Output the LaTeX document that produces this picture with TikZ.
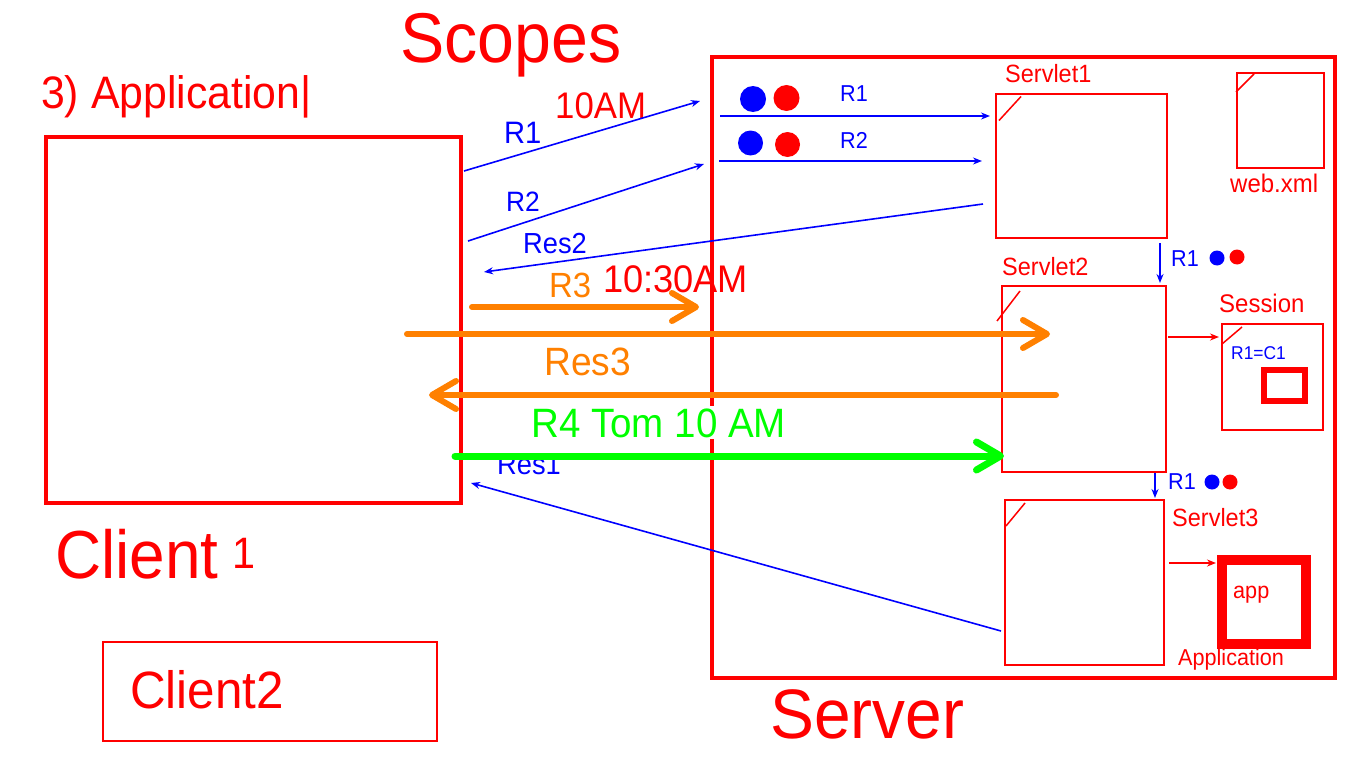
\documentclass[tikz,border=0pt]{standalone}
\usepackage{fontspec}
\setmainfont[FakeStretch=0.94]{Liberation Sans}
\usetikzlibrary{arrows.meta}
\definecolor{cred}{RGB}{255,0,0}
\definecolor{cblue}{RGB}{0,0,255}
\definecolor{corange}{RGB}{255,128,0}
\definecolor{cgreen}{RGB}{0,255,0}
\newcommand{\fsz}[1]{\fontsize{#1}{#1}\selectfont}
\begin{document}
\begin{tikzpicture}[x=1pt,y=-1pt,
  lbl/.style={inner sep=0pt, anchor=base west},
  thickbox/.style={draw=cred, line width=4pt, inner sep=0pt},
  thinbox/.style={draw=cred, line width=2pt, inner sep=0pt},
  bluearrow/.style={draw=cblue, line width=1.6pt, -{Stealth[length=9pt,width=7pt]}},
  redarrow/.style={draw=cred, line width=1.6pt, -{Stealth[length=9pt,width=7pt]}},
  bigarrow/.style={line width=6pt, line cap=round, -{Straight Barb[length=24pt,width=28pt,round]}},
  slash/.style={draw=cred, line width=1.5pt},
  dot/.style={circle, inner sep=0pt},
]
\useasboundingbox (0,0) rectangle (1366,768);
\fill[white] (0,0) rectangle (1366,768);

% boxes
\node[thickbox, minimum width=623pt, minimum height=621pt] (server) at (1023.5,367.5) {};
\node[thickbox, minimum width=415pt, minimum height=366pt] (client1) at (253.5,320) {};
\node[thinbox, minimum width=334pt, minimum height=99pt] (client2) at (270,691.5) {};
\node[thinbox, minimum width=171pt, minimum height=143pt] (servlet1) at (1081.5,166) {};
\node[thinbox, minimum width=87pt, minimum height=95pt] (webxml) at (1280.5,120.5) {};
\node[thinbox, minimum width=164pt, minimum height=186pt] (servlet2) at (1084,379) {};
\node[thinbox, minimum width=101pt, minimum height=106pt] (session) at (1272.5,377) {};
\node[draw=cred, line width=5.5pt, inner sep=0pt, minimum width=41pt, minimum height=31pt] (sessobj) at (1284.5,385.5) {};
\node[thinbox, minimum width=159pt, minimum height=165pt] (servlet3) at (1084.5,582.5) {};
\node[draw=cred, line width=10pt, inner sep=0pt, minimum width=84pt, minimum height=84pt] (appbox) at (1264,602) {};

% slashes
\draw[slash] (servlet1.north west) ++(4,27) coordinate (s1a) -- ++(22,-24) coordinate (s1b);
\draw[slash] (webxml.north west) ++(0,20) coordinate (wa) -- ++(18,-18) coordinate (wb);
\draw[slash] (servlet2.north west) ++(-4,36) coordinate (s2a) -- ++(23,-30) coordinate (s2b);
\draw[slash] (session.north west) ++(1,21) coordinate (sea) -- ++(20,-17) coordinate (seb);
\draw[slash] (servlet3.north west) ++(2,27) coordinate (s3a) -- ++(19,-23) coordinate (s3b);

% titles
\node[lbl, text=cred] (scopes) at (400,63) {\fsz{70.5}Scopes};
\node[lbl, text=cred] (appl) at (41,109) {\fsz{45.5}3) Application|};
\node[lbl, text=cred] (client1lbl) at (55,578) {\fsz{68}Client};
\node[lbl, text=cred] (client1num) at (232,568) {\fsz{44}1};
\node[lbl, text=cred] (client2lbl) at (130,708) {\fsz{52.5}Client2};
\node[lbl, text=cred] (serverlbl) at (770,738) {\fsz{70}Server};

% server labels
\node[lbl, text=cred] (s1lbl) at (1005,83) {\fsz{25}Servlet1};
\node[lbl, text=cred] (s2lbl) at (1002,275) {\fsz{25}Servlet2};
\node[lbl, text=cred] (s3lbl) at (1172,526) {\fsz{25}Servlet3};
\node[lbl, text=cred] (webxmllbl) at (1230,192) {\fsz{25.5}web.xml};
\node[lbl, text=cred] (sesslbl) at (1219,312) {\fsz{25.5}Session};
\node[lbl, text=cblue] (r1c1) at (1231,359) {\fsz{18.5}R1=C1};
\node[lbl, text=cred] (applbl) at (1233,598) {\fsz{23}app};
\node[lbl, text=cred] (applicationlbl) at (1178,665) {\fsz{23}Application};

% dots and R labels inside server
\node[dot, fill=cblue, minimum width=26pt] (b1) at (753,99) {};
\node[dot, fill=cred, minimum width=26pt] (r1) at (786.5,98) {};
\node[dot, fill=cblue, minimum width=25pt] (b2) at (750.5,143) {};
\node[dot, fill=cred, minimum width=25pt] (r2) at (787.5,144.5) {};
\node[lbl, text=cblue] (sr1) at (840,102) {\fsz{23}R1};
\node[lbl, text=cblue] (sr2) at (840,148) {\fsz{23}R2};
\coordinate (sr1a) at (720,116); \coordinate (sr1b) at (990,116);
\coordinate (sr2a) at (719,161); \coordinate (sr2b) at (982,161);
\draw[bluearrow] (sr1a) -- (sr1b);
\draw[bluearrow] (sr2a) -- (sr2b);

\node[lbl, text=cblue] (d1r1) at (1171,266) {\fsz{23}R1};
\node[dot, fill=cblue, minimum width=15pt] (d1b) at (1217,258) {};
\node[dot, fill=cred, minimum width=15pt] (d1r) at (1237,257) {};
\coordinate (dn1a) at (1160,243); \coordinate (dn1b) at (1160,283);
\draw[bluearrow] (dn1a) -- (dn1b);

\node[lbl, text=cblue] (d2r1) at (1168,489) {\fsz{23}R1};
\node[dot, fill=cblue, minimum width=15pt] (d2b) at (1212,482) {};
\node[dot, fill=cred, minimum width=15pt] (d2r) at (1230,482) {};
\coordinate (dn2a) at (1155,473); \coordinate (dn2b) at (1155,498);
\draw[bluearrow] (dn2a) -- (dn2b);

\coordinate (sa1) at (1168,337); \coordinate (sa2) at (1219,337);
\draw[redarrow] (sa1) -- (sa2);
\coordinate (aa1) at (1169,563); \coordinate (aa2) at (1216,563);
\draw[redarrow] (aa1) -- (aa2);

% client-server arrows
\node[lbl, text=cblue] (lr1) at (504,143) {\fsz{31}R1};
\node[lbl, text=cred] (l10am) at (555,118) {\fsz{37}10AM};
\node[lbl, text=cblue] (lr2) at (506,211) {\fsz{28}R2};
\node[lbl, text=cblue] (lres2) at (523,253) {\fsz{29}Res2};
\coordinate (r1s) at (464,171); \coordinate (r1e) at (700,101);
\coordinate (r2s) at (468,241); \coordinate (r2e) at (704,164);
\coordinate (res2s) at (983,204); \coordinate (res2e) at (484,272);
\draw[bluearrow] (r1s) -- (r1e);
\draw[bluearrow] (r2s) -- (r2e);
\draw[bluearrow] (res2s) -- (res2e);

\node[lbl, text=corange] (lr3) at (549,297) {\fsz{35}R3};
\node[lbl, text=cred] (l1030) at (603,292) {\fsz{38.5}10:30AM};
\coordinate (r3s) at (472,307); \coordinate (r3e) at (699,307);
\draw[bigarrow, corange] (r3s) -- (r3e);
\coordinate (r3ls) at (407,334); \coordinate (r3le) at (1050,334);
\draw[bigarrow, corange] (r3ls) -- (r3le);

\node[lbl, text=corange] (lres3) at (544,375) {\fsz{39.5}Res3};
\coordinate (res3s) at (1056,395); \coordinate (res3e) at (429,395);
\draw[bigarrow, corange] (res3s) -- (res3e);

\node[lbl, text=cblue] (lres1) at (497,474) {\fsz{29}Res1};
\coordinate (res1s) at (1001,631); \coordinate (res1e) at (471,483);
\draw[bluearrow] (res1s) -- (res1e);

\node[lbl, text=cgreen, fill=white, inner sep=2pt] (lr4) at (529,437) {\fsz{41}R4 Tom 10 AM};
\coordinate (r4s) at (455,456); \coordinate (r4e) at (1004,456);
\draw[bigarrow, cgreen, line width=7pt] (r4s) -- (r4e);
\end{tikzpicture}
\end{document}
